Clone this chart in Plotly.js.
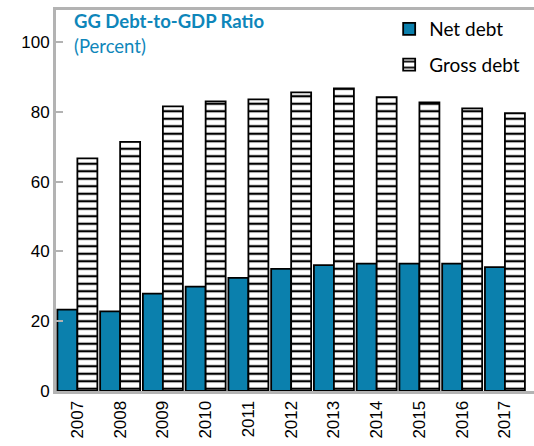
<!DOCTYPE html>
<html>
<head>
<meta charset="utf-8">
<script src="https://cdn.plot.ly/plotly-3.0.1.min.js"></script>
<style>html,body{margin:0;padding:0;background:#fff;}#chart{width:534px;height:446px;}</style>
</head>
<body>
<div id="chart"></div>
<script>
const years = ["2007","2008","2009","2010","2011","2012","2013","2014","2015","2016","2017"];
const netDebt = [23.3, 22.8, 27.9, 29.9, 32.4, 35.0, 36.1, 36.5, 36.5, 36.5, 35.5];
const grossDebt = [66.7, 71.4, 81.6, 83.0, 83.6, 85.6, 86.7, 84.2, 82.7, 81.0, 79.6];
const yTicks = [0, 20, 40, 60, 80, 100];

const traces = [
  {
    type: 'bar', name: 'Net debt', x: years, y: netDebt, legendgroup: 'a',
    marker: {color: '#0B80AD', line: {color: '#000', width: 1.8}}
  },
  {
    type: 'bar', name: 'Gross debt', x: years, y: grossDebt, legendgroup: 'b',
    marker: {color: '#fff', line: {color: '#000', width: 1.8},
      pattern: {shape: '-', fgcolor: '#000', bgcolor: '#fff', size: 7.5, solidity: 0.3}}
  }
];

const layout = {
  width: 534, height: 446,
  margin: {l: 56, r: 0, t: 10, b: 55},
  paper_bgcolor: '#fff', plot_bgcolor: '#fff',
  barmode: 'group', bargap: 0.065, bargroupgap: 0,
  showlegend: true,
  legend: {x: 0.697, y: 1.0, xanchor: 'left', yanchor: 'top', bgcolor: 'rgba(0,0,0,0)',
    font: {family: 'Lato, sans-serif', size: 19, color: '#000'}, tracegroupgap: 8, itemwidth: 30},
  xaxis: {
    type: 'category', range: [-0.5, 10.68], tickangle: -90, ticks: '',
    showline: true, linecolor: '#b3b3b3', linewidth: 3, mirror: true,
    tickfont: {family: 'Liberation Sans, Arial, sans-serif', size: 17, color: '#000'},
    showgrid: false, zeroline: false
  },
  yaxis: {
    range: [0, 109.2], tickvals: yTicks, ticktext: yTicks.map(String),
    ticks: 'inside', ticklen: 7, tickcolor: '#b3b3b3', tickwidth: 2,
    showline: true, linecolor: '#b3b3b3', linewidth: 3,
    tickfont: {family: 'Liberation Sans, Arial, sans-serif', size: 17, color: '#000'},
    showgrid: false, zeroline: false
  },
  annotations: [
    {xref: 'paper', yref: 'paper', x: 0.033, y: 1.005, xanchor: 'left', yanchor: 'top',
     text: '<b>GG Debt-to-GDP Ratio</b>', showarrow: false,
     font: {family: 'Lato, sans-serif', size: 18.5, color: '#0E86BA'}},
    {xref: 'paper', yref: 'paper', x: 0.033, y: 0.94, xanchor: 'left', yanchor: 'top',
     text: '(Percent)', showarrow: false,
     font: {family: 'Lato, sans-serif', size: 18.5, color: '#0E86BA'}}
  ]
};

Plotly.newPlot('chart', traces, layout, {displayModeBar: false, staticPlot: true});
</script>
</body>
</html>
